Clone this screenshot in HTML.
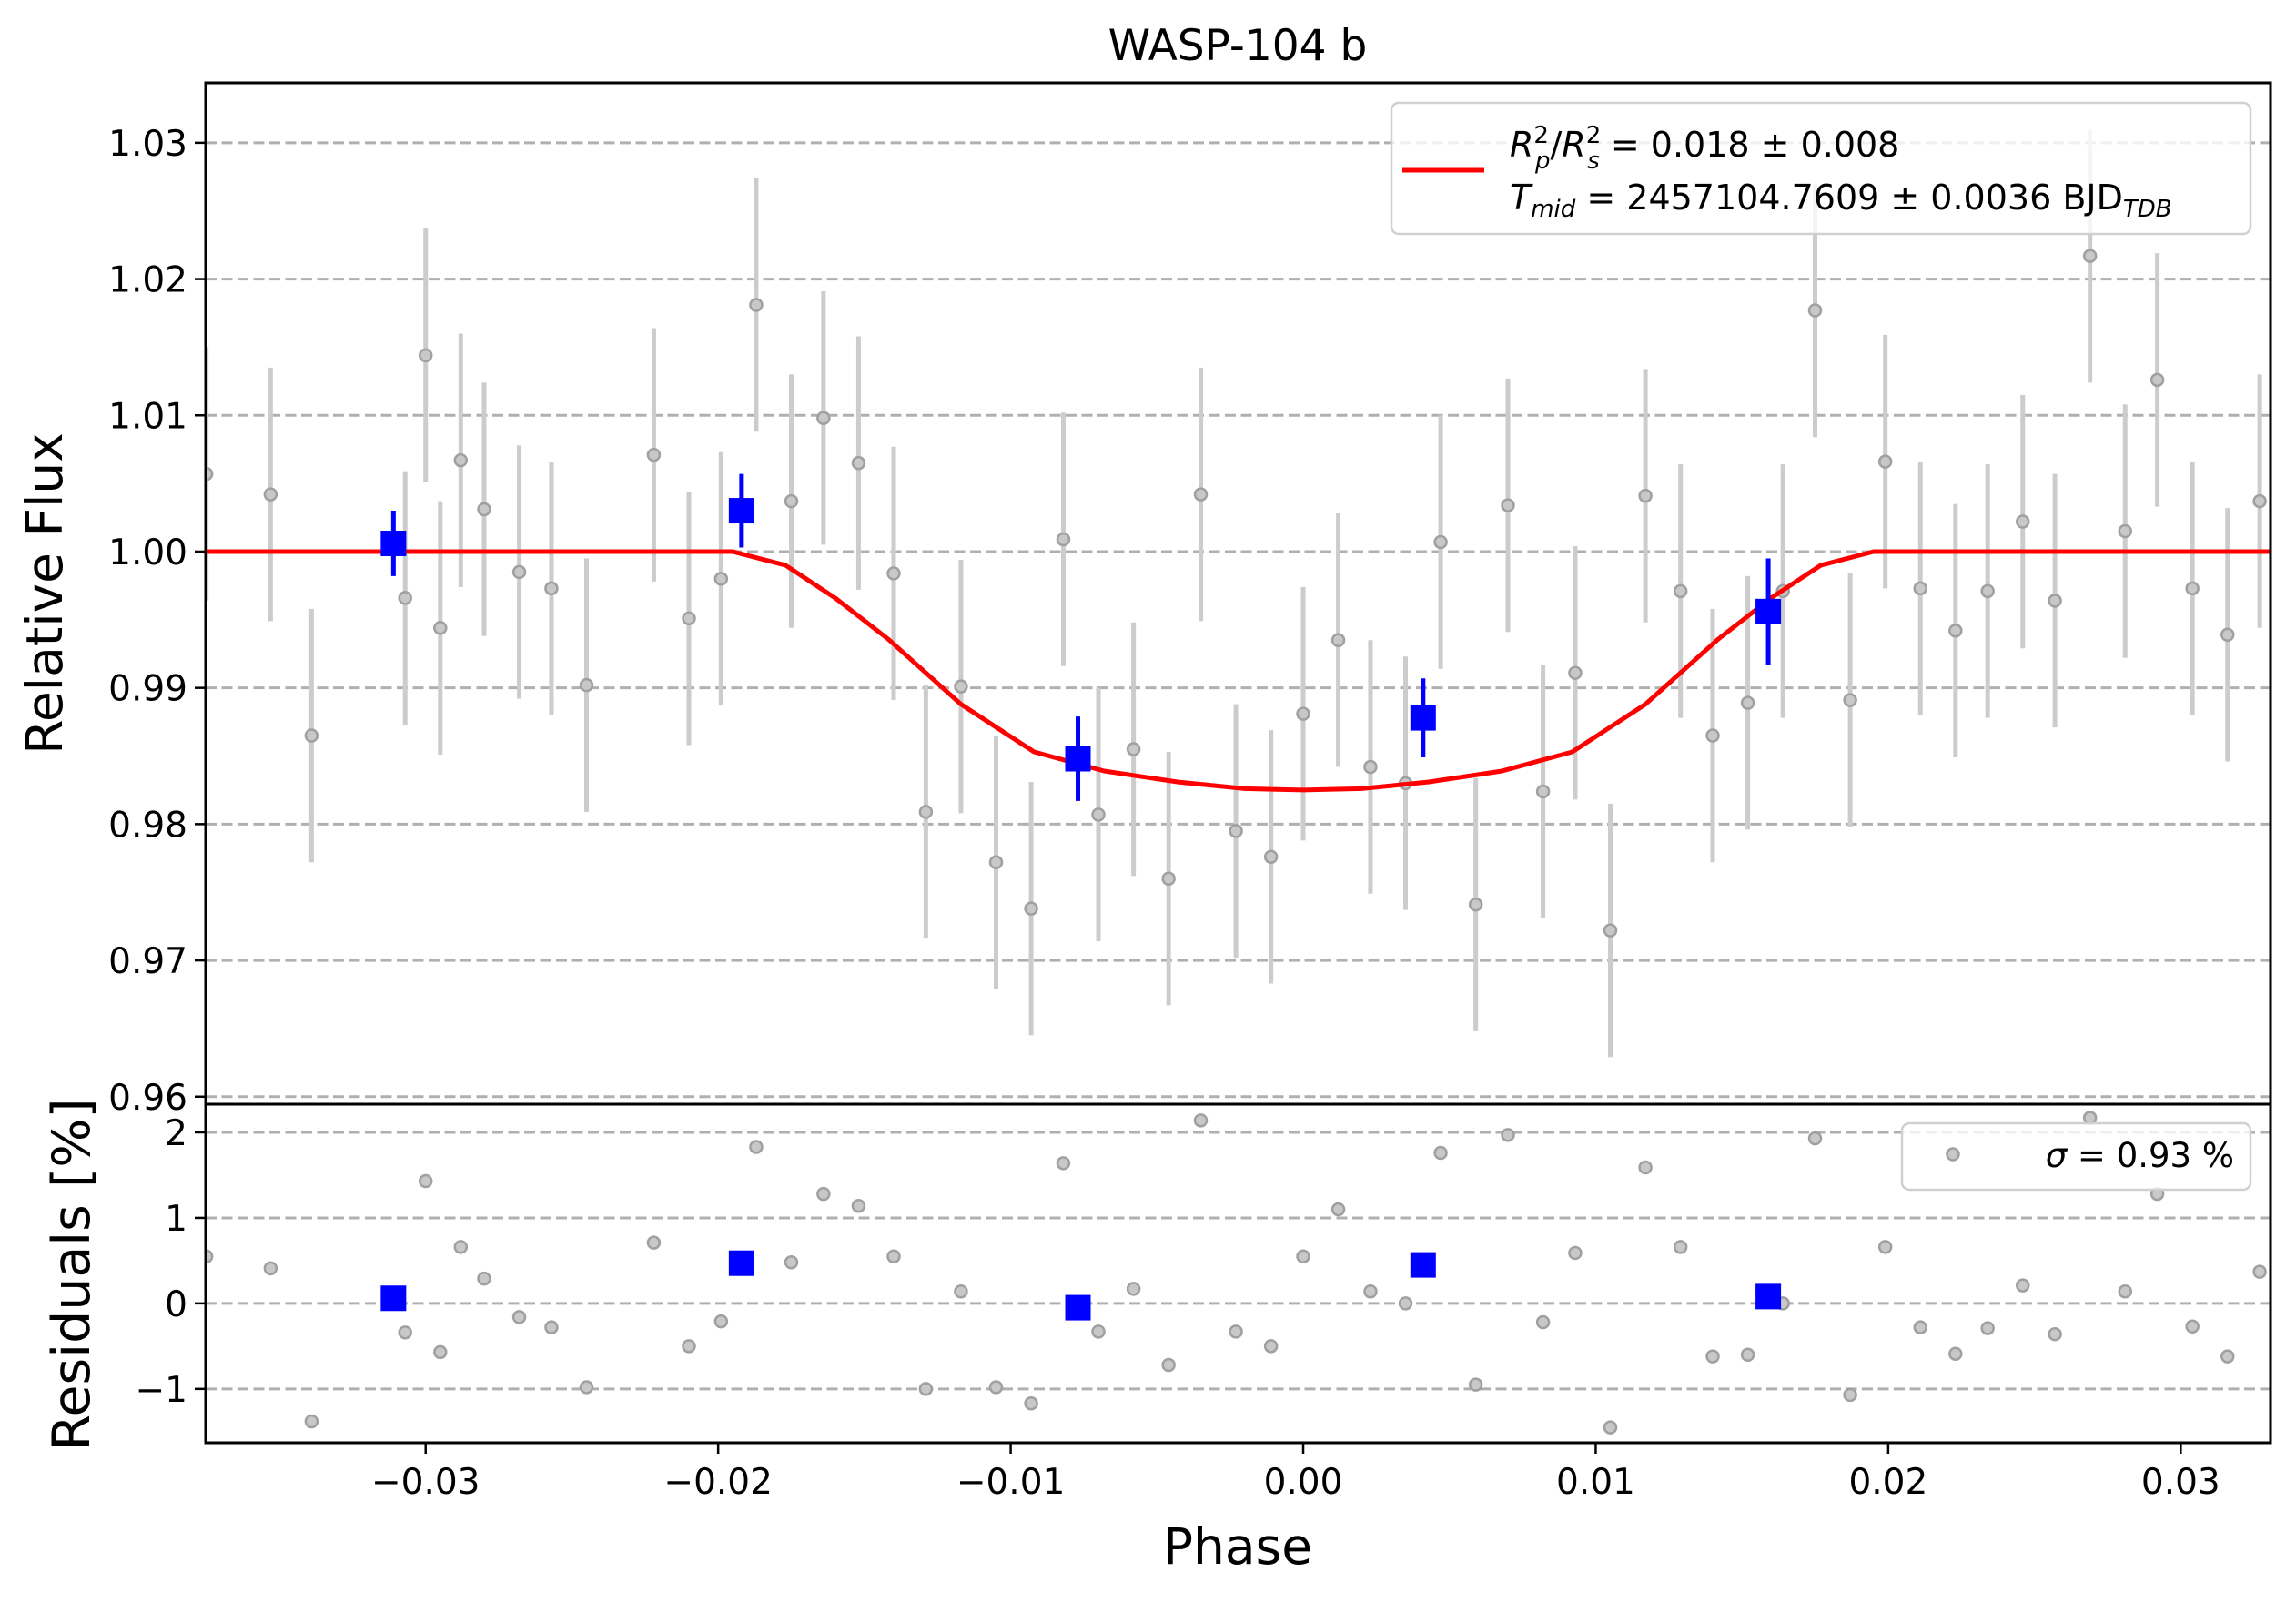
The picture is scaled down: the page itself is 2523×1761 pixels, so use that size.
<!DOCTYPE html>
<html><head><meta charset="utf-8"><style>
html,body{margin:0;padding:0;background:#fff;}
svg{display:block;font-family:"DejaVu Sans","Liberation Sans",sans-serif;}
</style></head><body>
<svg id="chart" xmlns="http://www.w3.org/2000/svg" width="2523" height="1761" viewBox="0 0 2523 1761" style="position:absolute;left:0;top:0">
<rect width="2523" height="1761" fill="#fff"/>
<g id="g"></g>
</svg>
<script>
const phase=[-0.0375,-0.0353,-0.0339,-0.0307,-0.0300,-0.0295,-0.0288,-0.0280,-0.0268,-0.0257,-0.0245,-0.0222,-0.0210,-0.0199,-0.0187,-0.0175,-0.0164,-0.0152,-0.0140,-0.0129,-0.0117,-0.0105,-0.0093,-0.0082,-0.0070,-0.0058,-0.0046,-0.0035,-0.0023,-0.0011,0.0000,0.0012,0.0023,0.0035,0.0047,0.0059,0.0070,0.0082,0.0093,0.0105,0.0117,0.0129,0.0140,0.0152,0.0164,0.0175,0.0187,0.0199,0.0211,0.0223,0.0234,0.0246,0.0257,0.0269,0.0281,0.0292,0.0304,0.0316,0.0327];
const flux=[1.0057,1.0042,0.9865,0.9966,1.0144,0.9944,1.0067,1.0031,0.9985,0.9973,0.9902,1.0071,0.9951,0.9980,1.0181,1.0037,1.0098,1.0065,0.9984,0.9809,0.9901,0.9772,0.9738,1.0009,0.9807,0.9855,0.9760,1.0042,0.9795,0.9776,0.9881,0.9935,0.9842,0.9830,1.0007,0.9741,1.0034,0.9824,0.9911,0.9722,1.0041,0.9971,0.9865,0.9889,0.9971,1.0177,0.9891,1.0066,0.9973,0.9942,0.9971,1.0022,0.9964,1.0217,1.0015,1.0126,0.9973,0.9939,1.0037];
const fluxErr=0.0093;
const resid=[0.55,0.41,-1.38,-0.34,1.43,-0.57,0.66,0.29,-0.16,-0.28,-0.98,0.71,-0.50,-0.21,1.83,0.48,1.28,1.14,0.55,-1.0,0.14,-0.98,-1.17,1.64,-0.33,0.17,-0.72,2.14,-0.33,-0.50,0.55,1.10,0.14,0.0,1.76,-0.95,1.97,-0.22,0.59,-1.45,1.59,0.66,-0.62,-0.60,0.0,1.93,-1.07,0.66,-0.28,-0.59,-0.29,0.21,-0.36,2.17,0.14,1.28,-0.27,-0.62,0.37];
const binPhase=[-0.0311,-0.0192,-0.0077,0.0041,0.0159];
const binFlux=[1.0006,1.0030,0.9848,0.9878,0.9956];
const binErr=[0.0024,0.0027,0.0031,0.0029,0.0039];
const binResid=[0.06,0.47,-0.05,0.45,0.08];
const modelPhase=[-0.0376,-0.0195,-0.0177,-0.0160,-0.0142,-0.0117,-0.0092,-0.0068,-0.0043,-0.0020,0,0.0020,0.0043,0.0068,0.0092,0.0117,0.0142,0.0160,0.0177,0.0195,0.0331];
const modelFlux=[1,1,0.9990,0.9966,0.9936,0.9888,0.9853,0.9839,0.9831,0.9826,0.9825,0.9826,0.9831,0.9839,0.9853,0.9888,0.9936,0.9966,0.9990,1,1];
const xTicks=[-0.03,-0.02,-0.01,0,0.01,0.02,0.03];
const xTickLabels=["\u22120.03","\u22120.02","\u22120.01","0.00","0.01","0.02","0.03"];
const yTicks=[0.96,0.97,0.98,0.99,1.00,1.01,1.02,1.03];
const yTickLabels=["0.96","0.97","0.98","0.99","1.00","1.01","1.02","1.03"];
const rTicks=[-1,0,1,2];
const rTickLabels=["\u22121","0","1","2"];

const L=226,R=2495,T=91,M=1213,B=1585;
const XMIN=-0.03752,XMAX=0.03307,YMIN=0.95945,YMAX=1.0344,RMIN=-1.63,RMAX=2.33;
const sx=v=>L+(v-XMIN)/(XMAX-XMIN)*(R-L);
const sy=v=>M-(v-YMIN)/(YMAX-YMIN)*(M-T);
const sr=v=>B-(v-RMIN)/(RMAX-RMIN)*(B-M);
const NS="http://www.w3.org/2000/svg";
const g=document.getElementById('g');
function mk(tag,attrs,parent){const e=document.createElementNS(NS,tag);for(const k in attrs)e.setAttribute(k,attrs[k]);(parent||g).appendChild(e);return e;}

const defs=mk('defs',{});
const c1=mk('clipPath',{id:'ct'},defs);mk('rect',{x:L,y:T,width:R-L,height:M-T},c1);
const c2=mk('clipPath',{id:'cb'},defs);mk('rect',{x:L,y:M,width:R-L,height:B-M},c2);
const topG=mk('g',{'clip-path':'url(#ct)'});


const botG=mk('g',{'clip-path':'url(#cb)'});



yTicks.forEach(v=>{const l=mk('line',{x1:L,x2:R,y1:sy(v),y2:sy(v),stroke:'#b0b0b0','stroke-width':3,'stroke-dasharray':'12,5.5'},topG);

});
rTicks.forEach(v=>{const l=mk('line',{x1:L,x2:R,y1:sr(v),y2:sr(v),stroke:'#b0b0b0','stroke-width':3,'stroke-dasharray':'12,5.5'},botG);

});

phase.forEach((p,i)=>{
 const e=mk('line',{x1:sx(p),x2:sx(p),y1:sy(flux[i]-fluxErr),y2:sy(flux[i]+fluxErr),stroke:'#cccccc','stroke-width':5},topG);
 
 
});
phase.forEach((p,i)=>{
 const c=mk('circle',{cx:sx(p),cy:sy(flux[i]),r:6.5,fill:'#c8c8c8',stroke:'#a0a0a0','stroke-width':2.5},topG);
 
 
 const r=mk('circle',{cx:sx(p),cy:sr(resid[i]),r:6.5,fill:'#c8c8c8',stroke:'#a0a0a0','stroke-width':2.5},botG);
 
 
});
const path=modelPhase.map((p,i)=>(i?'L':'M')+sx(p).toFixed(1)+','+sy(modelFlux[i]).toFixed(1)).join(' ');
const ml=mk('path',{d:path,fill:'none',stroke:'#ff0000','stroke-width':5,'stroke-linejoin':'round'},topG);


binPhase.forEach((p,i)=>{
 const e=mk('line',{x1:sx(p),x2:sx(p),y1:sy(binFlux[i]-binErr[i]),y2:sy(binFlux[i]+binErr[i]),stroke:'#0000ff','stroke-width':5},topG);
 
 
 const s=mk('rect',{x:sx(p)-14,y:sy(binFlux[i])-14,width:28,height:28,fill:'#0000ff'},topG);
 
 
 const s2=mk('rect',{x:sx(p)-14,y:sr(binResid[i])-14,width:28,height:28,fill:'#0000ff'},botG);
 
 
});

yTicks.forEach((v,i)=>{
 mk('line',{x1:L-12,x2:L,y1:sy(v),y2:sy(v),stroke:'#000','stroke-width':2.5});
 const t=mk('text',{x:L-20,y:sy(v)+14,'text-anchor':'end','font-size':39});t.textContent=yTickLabels[i];
 
 
});
rTicks.forEach((v,i)=>{
 mk('line',{x1:L-12,x2:L,y1:sr(v),y2:sr(v),stroke:'#000','stroke-width':2.5});
 const t=mk('text',{x:L-20,y:sr(v)+14,'text-anchor':'end','font-size':39});t.textContent=rTickLabels[i];
 
 
});
xTicks.forEach((v,i)=>{
 mk('line',{x1:sx(v),x2:sx(v),y1:B,y2:B+12,stroke:'#000','stroke-width':2.5});
 const t=mk('text',{x:sx(v),y:B+56,'text-anchor':'middle','font-size':39});t.textContent=xTickLabels[i];
 
 
});
mk('rect',{x:L,y:T,width:R-L,height:M-T,fill:'none',stroke:'#000','stroke-width':3});
mk('rect',{x:L,y:M,width:R-L,height:B-M,fill:'none',stroke:'#000','stroke-width':3});
</script>
<svg style="position:absolute;left:0;top:0" width="2523" height="1761" xmlns="http://www.w3.org/2000/svg">
<text x="1360" y="66" text-anchor="middle" font-size="47">WASP-104 b</text>
<text transform="translate(68,652) rotate(-90)" text-anchor="middle" font-size="55">Relative Flux</text>
<text transform="translate(98,1400) rotate(-90)" text-anchor="middle" font-size="57">Residuals [%]</text>
<text x="1360" y="1718" text-anchor="middle" font-size="55">Phase</text>
<g>
<rect x="1529" y="113" width="944" height="144" rx="8" fill="#fff" fill-opacity="0.8" stroke="#d0d0d0" stroke-width="2.5"/>
<line x1="1541" x2="1631" y1="187" y2="187" stroke="#ff0000" stroke-width="5"/>
<text x="1659" y="172" font-size="38"><tspan font-style="italic">R</tspan><tspan font-size="26" dy="-15">2</tspan><tspan font-size="26" font-style="italic" dx="-15" dy="28">p</tspan><tspan dy="-13">/</tspan><tspan font-style="italic">R</tspan><tspan font-size="26" dy="-15">2</tspan><tspan font-size="26" font-style="italic" dx="-15" dy="28">s</tspan><tspan dy="-13"> = 0.018 ± 0.008</tspan></text>
<text x="1659" y="230" font-size="38"><tspan font-style="italic">T</tspan><tspan font-size="26" font-style="italic" dy="8">mid</tspan><tspan dy="-8"> = 2457104.7609 ± 0.0036 BJD</tspan><tspan font-size="26" font-style="italic" dy="8">TDB</tspan></text>
</g>
<g>
<rect x="2090" y="1234" width="383" height="73" rx="8" fill="#fff" fill-opacity="0.8" stroke="#d0d0d0" stroke-width="2.5"/>
<circle cx="2146" cy="1268" r="6.5" fill="#c8c8c8" stroke="#a0a0a0" stroke-width="2.5"/>
<text x="2455" y="1282" text-anchor="end" font-size="37"><tspan font-style="italic">σ</tspan> = 0.93 %</text>
</g>
</svg>
</body></html>
